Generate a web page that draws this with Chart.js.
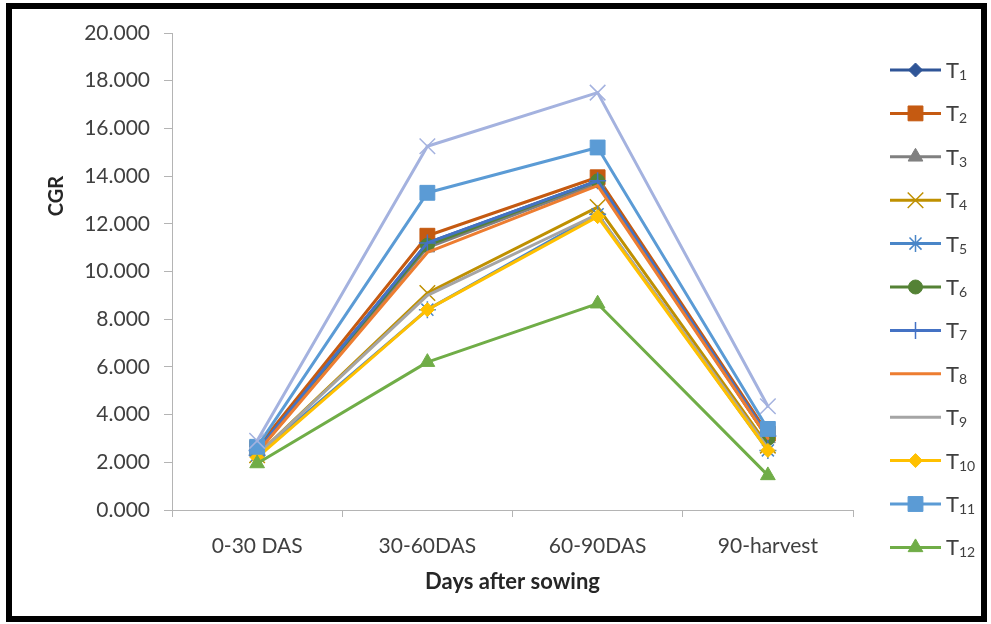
<!DOCTYPE html>
<html>
<head>
<meta charset="utf-8">
<script src="https://cdn.jsdelivr.net/npm/chart.js@4.4.1/dist/chart.umd.min.js"></script>
<style>
  html, body { margin: 0; padding: 0; background: #fff; }
  #wrap { position: relative; width: 991px; height: 624px; }
  #frame {
    position: absolute; left: 6px; top: 3px; width: 969px; height: 607px;
    border: 6px solid #000; pointer-events: none;
  }
</style>
</head>
<body>
<div id="wrap">
  <canvas id="cgr" width="991" height="624"></canvas>
  <div id="frame"></div>
</div>
<script>
// periods on the x axis
const periods = ["0-30 DAS", "30-60DAS", "60-90DAS", "90-harvest"];

// CGR per treatment
const t1 = [2.5, 11.2, 13.8, 3.1];
const t2 = [2.6, 11.5, 13.95, 3.2];
const t3 = [2.4, 11.0, 13.7, 3.0];
const t4 = [2.3, 9.1, 12.7, 2.7];
const t5 = [2.3, 8.4, 12.4, 2.5];
const t6 = [2.5, 11.1, 13.8, 3.0];
const t7 = [2.5, 11.2, 13.8, 3.1];
const t8 = [2.4, 10.8, 13.6, 3.0];
const t9 = [2.3, 9.0, 12.4, 2.6];
const t10 = [2.2, 8.4, 12.3, 2.5];
const t11 = [2.65, 13.3, 15.2, 3.4];
const t12 = [1.95, 6.2, 8.65, 1.45];
const t13 = [2.9, 15.25, 17.5, 4.35]; // plotted but missing from the legend

const seriesNames = ["T1", "T2", "T3", "T4", "T5", "T6", "T7", "T8", "T9", "T10", "T11", "T12", "T13"];
const seriesValues = [t1, t2, t3, t4, t5, t6, t7, t8, t9, t10, t11, t12, t13];

const yTicks = [0, 2, 4, 6, 8, 10, 12, 14, 16, 18, 20];

// look of each series: colour, marker, marker radius, marker stroke
const looks = [
  ["#2F5597", "rectRot", 7, 1],
  ["#C55A11", "rect", 10.5, 1],
  ["#808080", "triangle", 8.5, 1],
  ["#BF9000", "crossRot", 11, 1.5],
  ["#4A86C8", "star", 8.5, 1.5],
  ["#548235", "circle", 7, 1],
  ["#4472C4", "cross", 8.5, 1.5],
  ["#ED7D31", "circle", 0, 0],
  ["#A5A5A5", "circle", 0, 0],
  ["#FFC000", "rectRot", 7, 1],
  ["#5B9BD5", "rect", 10.5, 1],
  ["#70AD47", "triangle", 8.5, 1],
  ["#A4B2DF", "crossRot", 11, 1.5],
];

const datasets = seriesValues.map((vals, i) => {
  const [color, style, radius, bw] = looks[i];
  return {
    label: seriesNames[i],
    data: vals,
    borderColor: color,
    backgroundColor: color,
    borderWidth: 3,
    borderJoinStyle: "round",
    borderCapStyle: "round",
    tension: 0,
    pointStyle: style,
    pointRadius: radius,
    pointHoverRadius: radius,
    pointBackgroundColor: color,
    pointBorderColor: color,
    pointBorderWidth: bw,
    order: seriesValues.length - i, // later series sit on top, like the original
    inLegend: i < 12,
  };
});

// legend on the right with T and a subscript number
const sideLegend = {
  id: "sideLegend",
  afterDraw(chart) {
    const ctx = chart.ctx;
    const area = chart.chartArea;
    const x0 = area.right + 37;
    const lineW = 51;
    const top = area.top + 37;
    const step = 43.4;
    chart.data.datasets.forEach((ds, i) => {
      if (!ds.inLegend) return;
      const y = top + i * step;
      ctx.save();
      ctx.strokeStyle = ds.borderColor;
      ctx.lineWidth = 3;
      ctx.lineCap = "butt";
      ctx.beginPath();
      ctx.moveTo(x0, y);
      ctx.lineTo(x0 + lineW, y);
      ctx.stroke();
      if (ds.pointRadius > 0) {
        ctx.fillStyle = ds.pointBackgroundColor;
        ctx.strokeStyle = ds.pointBorderColor;
        ctx.lineWidth = ds.pointBorderWidth;
        Chart.helpers.drawPoint(ctx, {
          pointStyle: ds.pointStyle,
          radius: ds.pointRadius,
          rotation: 0,
          borderWidth: ds.pointBorderWidth,
        }, x0 + lineW / 2, y);
      }
      ctx.fillStyle = "#404040";
      ctx.textAlign = "left";
      ctx.textBaseline = "alphabetic";
      ctx.font = "22px Lato";
      const tx = x0 + lineW + 5;
      ctx.fillText("T", tx, y + 8);
      const tw = ctx.measureText("T").width;
      ctx.font = "14px Lato";
      ctx.fillText(ds.label.slice(1), tx + tw, y + 10);
      ctx.restore();
    });

    // y axis title
    ctx.save();
    ctx.translate(57, 196);
    ctx.rotate(-Math.PI / 2);
    ctx.fillStyle = "#262626";
    ctx.font = "bold 20px Lato";
    ctx.textAlign = "center";
    ctx.textBaseline = "middle";
    ctx.fillText("CGR", 0, 0);
    ctx.restore();
  },
};

const axisGray = "#b4b4b4";
const ctx = document.getElementById("cgr").getContext("2d");

new Chart(ctx, {
  type: "line",
  data: { labels: periods, datasets: datasets },
  options: {
    responsive: false,
    animation: false,
    layout: { padding: { top: 33, right: 138, left: 0, bottom: 0 } },
    plugins: {
      legend: { display: false },
      tooltip: { enabled: false },
    },
    scales: {
      x: {
        offset: true,
        grid: { offset: true, drawOnChartArea: false, tickLength: 7, color: axisGray },
        border: { color: axisGray, width: 1 },
        ticks: {
          color: "#404040",
          font: { family: "Lato", size: 21 },
          padding: 17,
          maxRotation: 0,
        },
        title: {
          display: true,
          text: "Days after sowing",
          color: "#262626",
          font: { family: "Lato", size: 22, weight: "bold" },
          padding: { top: 0, bottom: 29 },
        },
        afterFit(scale) { scale.height = 114; },
      },
      y: {
        min: yTicks[0],
        max: yTicks[yTicks.length - 1],
        afterBuildTicks(scale) { scale.ticks = yTicks.map((v) => ({ value: v })); },
        grid: { drawOnChartArea: false, tickLength: 8, color: axisGray },
        border: { color: axisGray, width: 1 },
        ticks: {
          color: "#404040",
          font: { family: "Lato", size: 21 },
          padding: 14,
          callback: (v) => Number(v).toFixed(3),
        },
        afterFit(scale) { scale.width = 172; },
      },
    },
  },
  plugins: [sideLegend],
});
</script>
</body>
</html>
